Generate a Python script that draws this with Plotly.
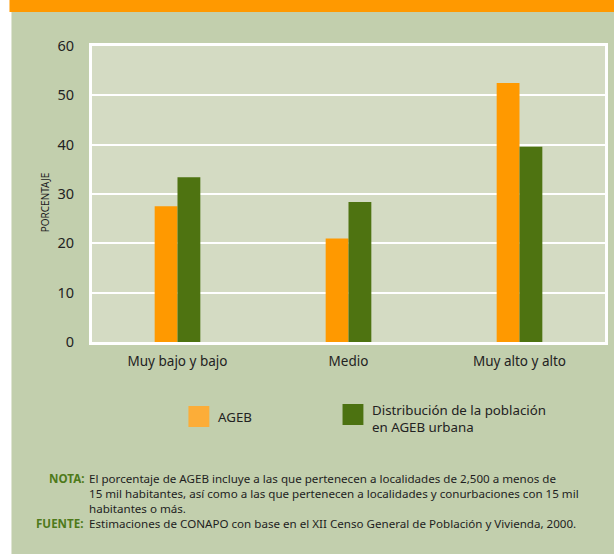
import plotly.graph_objects as go

categories = ["Muy bajo y bajo", "Medio", "Muy alto y alto"]
ageb = [27.5, 21.0, 52.5]
poblacion = [33.4, 28.4, 39.6]
series_names = ["AGEB", "Distribución de la población<br>en AGEB urbana"]
y_ticks = [0, 10, 20, 30, 40, 50, 60]

W, H = 614, 554
L, R, T, B = 92, 6, 46, 212
PW, PH = W - L - R, H - T - B

def px(x):
    return (x - L) / PW

def py(y):
    return (H - B - y) / PH

ORANGE = "#FF9900"
GREEN = "#4E7311"
BG = "#C2CFAD"
PLOT_BG = "#D4DBC3"
FONT = "Noto Sans"

fig = go.Figure()
fig.add_trace(go.Bar(x=categories, y=ageb, name="AGEB", marker=dict(color=ORANGE, line=dict(width=0))))
fig.add_trace(go.Bar(x=categories, y=poblacion, name="Distribución de la población en AGEB urbana",
                     marker=dict(color=GREEN, line=dict(width=0))))

shapes = [
    dict(type="rect", xref="paper", yref="paper", x0=px(-5), x1=px(11), y0=py(-5), y1=py(H + 5),
         fillcolor="white", line=dict(width=0), layer="below"),
    dict(type="rect", xref="paper", yref="paper", x0=px(9), x1=px(W + 5), y0=py(12), y1=py(-5),
         fillcolor=ORANGE, line=dict(width=0), layer="below"),
    dict(type="rect", xref="paper", yref="paper", x0=px(189), x1=px(210), y0=py(427), y1=py(406),
         fillcolor="#FCAD38", line=dict(width=0)),
    dict(type="rect", xref="paper", yref="paper", x0=px(344), x1=px(365), y0=py(425), y1=py(404),
         fillcolor="#4C7211", line=dict(width=0)),
]

annotations = [
    dict(text="PORCENTAJE", x=px(36), y=py(202), xref="paper", yref="paper", textangle=-90,
         showarrow=False, font=dict(family=FONT, size=10, color="#222222")),
    dict(text=series_names[0], x=px(217), y=py(417), xref="paper", yref="paper", xanchor="left",
         yanchor="middle", showarrow=False, font=dict(family=FONT, size=13.3, color="#222222")),
    dict(text=series_names[1], x=px(372), y=py(418), xref="paper", yref="paper", xanchor="left",
         yanchor="middle", align="left", showarrow=False,
         font=dict(family=FONT, size=13.3, color="#222222")),
]

note_font = dict(family=FONT, size=11.6, color="#1E1E1E")
label_font = dict(family=FONT, size=11.6, color="#4E7A1A")
notes = [
    ("NOTA:", "El porcentaje de AGEB incluye a las que pertenecen a localidades de 2,500 a menos de", 478),
    ("", "15 mil habitantes, así como a las que pertenecen a localidades y conurbaciones con 15 mil", 493),
    ("", "habitantes o más.", 508),
    ("FUENTE:", "Estimaciones de CONAPO con base en el XII Censo General de Población y Vivienda, 2000.", 523),
]
for lab, body, yy in notes:
    if lab:
        annotations.append(dict(text="<b>" + lab + "</b>", x=px(85), y=py(yy), xref="paper", yref="paper",
                                xanchor="right", yanchor="middle", showarrow=False, font=label_font,
                                borderpad=0))
    annotations.append(dict(text=body, x=px(88), y=py(yy), xref="paper", yref="paper",
                            xanchor="left", yanchor="middle", showarrow=False, font=note_font,
                            borderpad=0))

fig.update_layout(
    width=W, height=H,
    margin=dict(l=L, r=R, t=T, b=B),
    paper_bgcolor=BG, plot_bgcolor=PLOT_BG,
    barmode="group", bargap=0.733, bargroupgap=0,
    showlegend=False,
    font=dict(family=FONT, size=13, color="#222222"),
    shapes=shapes, annotations=annotations,
)
fig.update_xaxes(showgrid=False, showline=True, linecolor="white", linewidth=3, mirror=True,
                 ticks="", tickfont=dict(family=FONT, size=13.5, color="#222222"), ticklabelstandoff=5)
fig.update_yaxes(range=[0, 60], tickvals=y_ticks, showgrid=True, gridcolor="white", gridwidth=2,
                 zeroline=False, showline=True, linecolor="white", linewidth=3, mirror=True, ticks="",
                 tickfont=dict(family=FONT, size=14.5, color="#222222"), ticklabelstandoff=12)

fig.write_html("out.html", config={"displayModeBar": False},
               post_script="document.body.style.margin='0';document.body.style.overflow='hidden';")
